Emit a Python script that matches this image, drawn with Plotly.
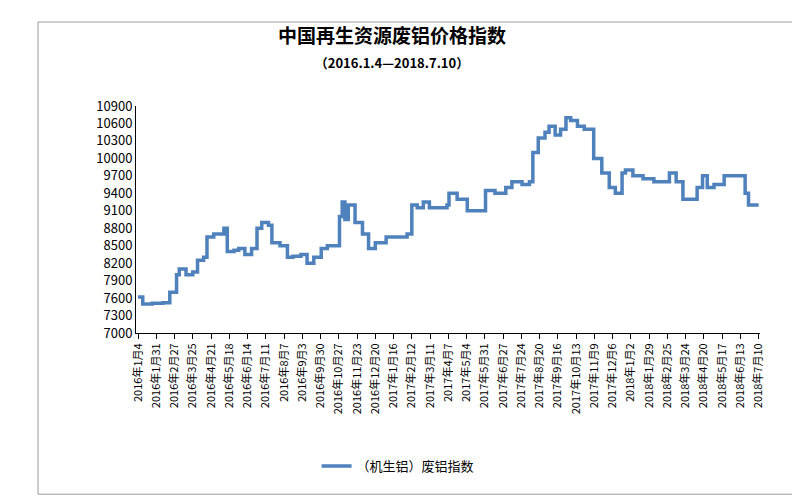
import plotly.graph_objects as go
from datetime import date, timedelta

dates = ["2016-01-04", "2016-01-11", "2016-01-25", "2016-02-10", "2016-02-20", "2016-03-01", "2016-03-05",
         "2016-03-15", "2016-03-25", "2016-04-01", "2016-04-10", "2016-04-15", "2016-04-25", "2016-05-10",
         "2016-05-15", "2016-05-25", "2016-06-01", "2016-06-10", "2016-06-20", "2016-06-28", "2016-07-05",
         "2016-07-15", "2016-07-20", "2016-08-01", "2016-08-12", "2016-08-20", "2016-09-01", "2016-09-10",
         "2016-09-20", "2016-10-01", "2016-10-10", "2016-10-25", "2016-10-28", "2016-11-01", "2016-11-05",
         "2016-11-10", "2016-11-20", "2016-12-01", "2016-12-10", "2016-12-20", "2017-01-05", "2017-01-25",
         "2017-02-05", "2017-02-12", "2017-02-20", "2017-03-01", "2017-03-10", "2017-03-25", "2017-04-05",
         "2017-04-08", "2017-04-20", "2017-05-05", "2017-05-25", "2017-06-01", "2017-06-15", "2017-07-01",
         "2017-07-10", "2017-07-25", "2017-08-05", "2017-08-10", "2017-08-18", "2017-08-28", "2017-09-03",
         "2017-09-12", "2017-09-20", "2017-09-28", "2017-10-05", "2017-10-15", "2017-10-25", "2017-11-01",
         "2017-11-08", "2017-11-20", "2017-12-01", "2017-12-10", "2017-12-20", "2017-12-25", "2018-01-05",
         "2018-01-20", "2018-02-05", "2018-02-20", "2018-02-28", "2018-03-10", "2018-03-20", "2018-04-01",
         "2018-04-10", "2018-04-18", "2018-04-25", "2018-05-05", "2018-05-20", "2018-06-05", "2018-06-13",
         "2018-06-20", "2018-06-25", "2018-07-10"]
values = [7620, 7500, 7510, 7520, 7700, 8000, 8100, 8000, 8050, 8250, 8300, 8650, 8700, 8800,
          8400, 8420, 8450, 8350, 8450, 8800, 8900, 8850, 8550, 8500, 8300, 8320, 8350, 8200,
          8300, 8450, 8500, 8500, 9000, 9250, 8950, 9200, 8900, 8700, 8450, 8550, 8650, 8650,
          8700, 9200, 9150, 9250, 9150, 9150, 9200, 9400, 9300, 9100, 9100, 9450, 9400, 9500,
          9600, 9550, 9600, 10100, 10350, 10450, 10550, 10400, 10500, 10700, 10650, 10550, 10500, 10500,
          10000, 9750, 9500, 9400, 9750, 9800, 9700, 9650, 9600, 9600, 9750, 9600, 9300, 9300,
          9500, 9700, 9500, 9550, 9700, 9700, 9700, 9400, 9200, 9200]

# tick dates every 27 days from 2016-01-04
tick_dates = [date(2016, 1, 4) + timedelta(days=27 * i) for i in range(35)]
tick_text = [f"{d.year}年{d.month}月{d.day}" for d in tick_dates]
y_ticks = list(range(7000, 10901, 300))

fig = go.Figure()
fig.add_trace(go.Scatter(x=dates, y=values, mode="lines", name="（机生铝）废铝指数", line_shape="hv",
                         line=dict(color="#4f81bd", width=3.5)))

fig.update_layout(
    width=800, height=500,
    paper_bgcolor="white", plot_bgcolor="white",
    font=dict(family="Noto Sans CJK SC", color="black", size=12),
    title=dict(text="<b>中国再生资源废铝价格指数</b><br><span style='font-size:13px'><b>（2016.1.4—2018.7.10）</b></span>",
               x=0.48, xanchor="center", y=0.93, font=dict(size=19)),
    margin=dict(l=128, r=48, t=98, b=175),
    showlegend=True,
    legend=dict(orientation="h", x=0.42, xanchor="center", y=-0.52, yanchor="top", font=dict(size=13)),
    shapes=[dict(type="rect", xref="paper", yref="paper", x0=-0.157, x1=1.053, y0=-0.71, y1=1.37,
                 line=dict(color="#999", width=1))],
)
fig.update_xaxes(tickvals=[d.isoformat() for d in tick_dates], ticktext=tick_text, tickangle=-90,
                 range=["2016-01-01", "2018-07-12"], showline=True, linecolor="black",
                 ticks="outside", ticklen=5, tickcolor="black", showgrid=False, tickfont=dict(size=11))
fig.update_yaxes(tickvals=y_ticks, ticktext=[str(v) for v in y_ticks], range=[7000, 10900],
                 showline=True, linecolor="black", showgrid=False, tickfont=dict(size=13))

fig.write_html("out.html")
